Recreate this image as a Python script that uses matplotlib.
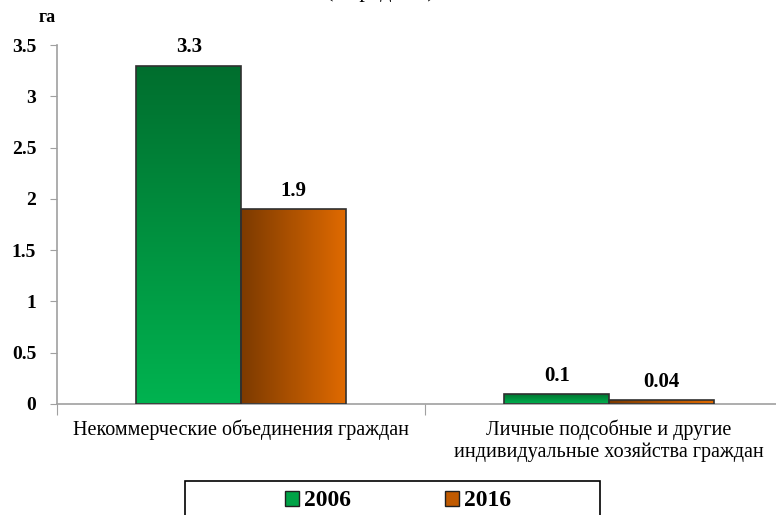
import numpy as np
import matplotlib
matplotlib.use('Agg')
import matplotlib.pyplot as plt
from matplotlib.colors import LinearSegmentedColormap

categories = ['Некоммерческие объединения граждан',
              'Личные подсобные и другие\nиндивидуальные хозяйства граждан']
years = ['2006', '2016']
values_2006 = [3.3, 0.1]
values_2016 = [1.9, 0.04]
labels_2006 = ['3.3', '0.1']
labels_2016 = ['1.9', '0.04']
yticks = [0, 0.5, 1, 1.5, 2, 2.5, 3, 3.5]
ytick_labels = ['0', '0.5', '1', '1.5', '2', '2.5', '3', '3.5']

plt.rcParams['font.family'] = ['Liberation Serif', 'DejaVu Serif']

green = LinearSegmentedColormap.from_list('g', ['#00b350', '#006e2e'])
orange = LinearSegmentedColormap.from_list('o', ['#7c3a00', '#e06a00'])


def fill_gradient(ax, bars, cmap, vertical):
    for b in bars:
        x0, y0 = b.get_x(), b.get_y()
        w, h = b.get_width(), b.get_height()
        if vertical:
            grad = np.linspace(0, 1, 256).reshape(-1, 1)
        else:
            grad = np.linspace(0, 1, 256).reshape(1, -1)
        im = ax.imshow(grad, extent=[x0, x0 + w, y0, y0 + h], origin='lower',
                       cmap=cmap, aspect='auto', zorder=2, interpolation='bilinear')
        im.set_clip_path(b)


fig = plt.figure(figsize=(7.76, 5.15), dpi=100)
ax = fig.add_axes([57 / 776, 111 / 515, 736 / 776, 359 / 515])

x = np.arange(len(categories))
w = 0.284
b1 = ax.bar(x - w / 2, values_2006, w, facecolor='none', edgecolor='#303030',
            linewidth=1.2, zorder=3, label=years[0])
b2 = ax.bar(x + w / 2, values_2016, w, facecolor='none', edgecolor='#303030',
            linewidth=1.2, zorder=3, label=years[1])
fill_gradient(ax, b1, green, True)
fill_gradient(ax, b2, orange, False)

for i in range(len(categories)):
    ax.text(x[i] - w / 2, values_2006[i] + 0.08, labels_2006[i], ha='center', va='bottom',
            fontsize=15, fontweight='bold')
    ax.text(x[i] + w / 2, values_2016[i] + 0.08, labels_2016[i], ha='center', va='bottom',
            fontsize=15, fontweight='bold')

ax.set_xlim(-0.5, 1.5)
ax.set_ylim(0, 3.5)
ax.set_yticks(yticks)
ax.set_yticklabels(ytick_labels, fontsize=14, fontweight='bold')
ax.set_xticks([-0.5, 0.5, 1.5])
ax.set_xticklabels([])
ax.set_xticks(x, minor=True)
ax.set_xticklabels(categories, minor=True, fontsize=14.5, linespacing=1.2)
ax.tick_params(axis='x', which='minor', length=0, pad=11)
ax.tick_params(axis='x', which='major', length=8, color='#a0a0a0')
ax.tick_params(axis='y', length=5, color='#a0a0a0', pad=10)
for s in ['top', 'right']:
    ax.spines[s].set_visible(False)
for s in ['left', 'bottom']:
    ax.spines[s].set_color('#a0a0a0')
    ax.spines[s].set_linewidth(1.2)

fig.text(47 / 776, 1 - 18 / 515, 'га', ha='center', va='center', fontsize=13, fontweight='bold')
fig.text(380 / 776, 1 - 2 / 515, '(в среднем)', ha='center', va='bottom', fontsize=16)

# legend frame, cut by the bottom edge as in the source
fig.patches.append(plt.Rectangle((185 / 776, -0.05), 415 / 776, 0.05 + 34 / 515,
                                 transform=fig.transFigure, facecolor='white',
                                 edgecolor='black', linewidth=1.2))
handles = [plt.Rectangle((0, 0), 1, 1, facecolor='#00a347', edgecolor='#202020'),
           plt.Rectangle((0, 0), 1, 1, facecolor='#c05a00', edgecolor='#202020')]
fig.legend(handles, years, loc='center', bbox_to_anchor=(398 / 776, 1 - 501 / 515),
           ncol=2, frameon=False, prop={'size': 17, 'weight': 'bold'},
           handlelength=0.6, handleheight=0.6, handletextpad=0.2, columnspacing=4.0)

fig.savefig('out.png', dpi=100)
